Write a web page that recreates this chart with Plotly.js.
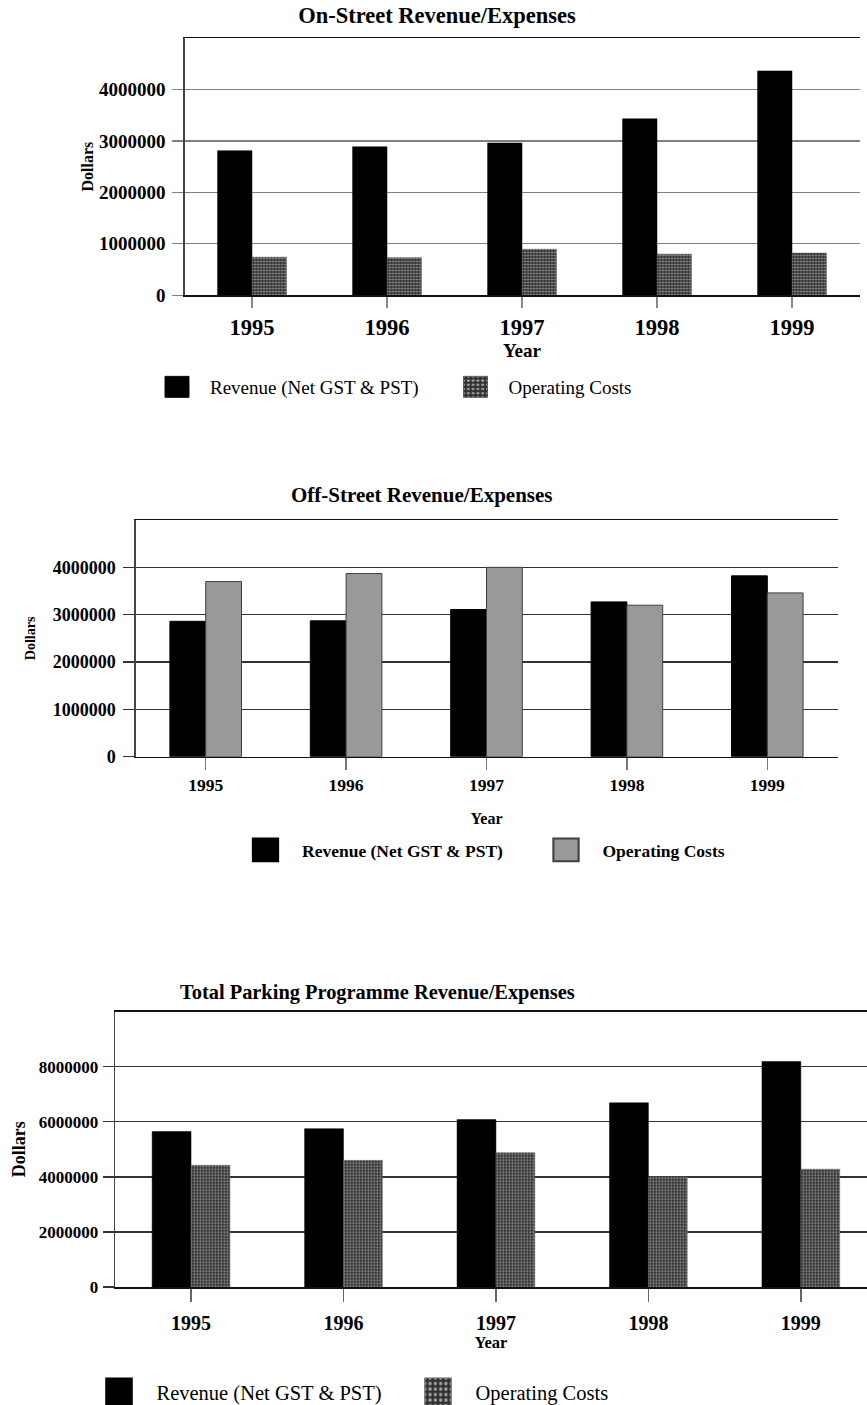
<!DOCTYPE html>
<html>
<head>
<meta charset="utf-8">
<script src="https://cdn.plot.ly/plotly-3.0.1.min.js"></script>
<style>
html,body{margin:0;padding:0;background:#fff;width:867px;height:1405px;overflow:hidden;}
#chart{width:867px;height:1405px;overflow:hidden;}
</style>
</head>
<body>
<div id="chart"></div>
<script>
// ---- data ----
const years = ['1995', '1996', '1997', '1998', '1999'];

const onStreetRevenue = [2810000, 2885000, 2960000, 3430000, 4360000];
const onStreetCosts   = [740000, 730000, 895000, 800000, 820000];

const offStreetRevenue = [2860000, 2870000, 3110000, 3270000, 3820000];
const offStreetCosts   = [3700000, 3870000, 4000000, 3200000, 3460000];

const totalRevenue = [5650000, 5750000, 6080000, 6690000, 8190000];
const totalCosts   = [4420000, 4600000, 4880000, 4000000, 4280000];

const onStreetTicks  = [0, 1000000, 2000000, 3000000, 4000000];
const offStreetTicks = [0, 1000000, 2000000, 3000000, 4000000];
const totalTicks     = [0, 2000000, 4000000, 6000000, 8000000];

const revenueName = 'Revenue (Net GST &amp; PST)';
const costsName = 'Operating Costs';

// ---- styling ----
const SERIF = '"Liberation Serif", "Times New Roman", Times, serif';
const W = 867, H = 1405;
const px = v => v / W;
const py = v => 1 - v / H;

const hatch = {shape: '.', fgcolor: '#a0a0a0', bgcolor: '#303030', size: 3, solidity: 0.32};

const data = [
  {type: 'bar', x: years, y: onStreetRevenue, name: revenueName, xaxis: 'x', yaxis: 'y', legend: 'legend',
   marker: {color: '#000', line: {color: '#000', width: 0.5}}, hoverinfo: 'skip'},
  {type: 'bar', x: years, y: onStreetCosts, name: costsName, xaxis: 'x', yaxis: 'y', legend: 'legend',
   marker: {color: '#303030', pattern: hatch, line: {color: '#555', width: 0.5}}, hoverinfo: 'skip'},

  {type: 'bar', x: years, y: offStreetRevenue, name: revenueName, xaxis: 'x2', yaxis: 'y2', legend: 'legend2',
   marker: {color: '#000', line: {color: '#000', width: 1}}, hoverinfo: 'skip'},
  {type: 'bar', x: years, y: offStreetCosts, name: costsName, xaxis: 'x2', yaxis: 'y2', legend: 'legend2',
   marker: {color: '#999999', line: {color: '#404040', width: 1}}, hoverinfo: 'skip'},

  {type: 'bar', x: years, y: totalRevenue, name: revenueName, xaxis: 'x3', yaxis: 'y3', legend: 'legend3',
   marker: {color: '#000', line: {color: '#000', width: 0.5}}, hoverinfo: 'skip'},
  {type: 'bar', x: years, y: totalCosts, name: costsName, xaxis: 'x3', yaxis: 'y3', legend: 'legend3',
   marker: {color: '#303030', pattern: hatch, line: {color: '#666', width: 0.5}}, hoverinfo: 'skip'}
];

function xAxis(domain, range, anchor, tickSize, titleSize, ticklen, tickColor, standoff, titleStandoff) {
  return {
    type: 'category', domain: domain, range: range, anchor: anchor,
    categoryorder: 'array', categoryarray: years,
    showgrid: false, zeroline: false,
    showline: true, mirror: true, linecolor: '#111', linewidth: 1.5,
    ticks: 'outside', ticklen: ticklen, tickwidth: 1.5, tickcolor: tickColor,
    ticklabelstandoff: standoff,
    tickfont: {family: SERIF, size: tickSize, color: '#000', weight: 'bold'},
    title: {text: 'Year', standoff: titleStandoff, font: {family: SERIF, size: titleSize, color: '#000', weight: 'bold'}},
    automargin: false, fixedrange: true
  };
}
function yAxis(domain, range, anchor, ticks, tickSize, titleSize, gridColor, standoff, titleStandoff) {
  return {
    domain: domain, range: range, anchor: anchor,
    tickmode: 'array', tickvals: ticks, tickformat: 'd',
    showgrid: true, gridcolor: gridColor, gridwidth: 1.3,
    zeroline: false,
    showline: true, linecolor: '#444', linewidth: 1.2,
    ticks: 'outside', ticklen: 11, tickwidth: 1.3, tickcolor: gridColor,
    ticklabelstandoff: standoff,
    tickfont: {family: SERIF, size: tickSize, color: '#000', weight: 'bold'},
    title: {text: 'Dollars', standoff: titleStandoff, font: {family: SERIF, size: titleSize, color: '#000', weight: 'bold'}},
    automargin: false, fixedrange: true
  };
}

function legendBox(y, x, itemwidth, size, weight, entrywidth) {
  return {
    orientation: 'h', x: x, xanchor: 'left', y: y, yanchor: 'middle',
    bgcolor: 'rgba(0,0,0,0)', borderwidth: 0,
    itemwidth: itemwidth, entrywidth: entrywidth, entrywidthmode: 'pixels',
    font: {family: SERIF, size: size, color: '#000', weight: weight},
    traceorder: 'normal', itemclick: false, itemdoubleclick: false
  };
}

const layout = {
  width: W, height: H,
  margin: {l: 0, r: 0, t: 0, b: 0, pad: 0, autoexpand: false},
  paper_bgcolor: '#fff', plot_bgcolor: '#fff',
  barmode: 'group', bargap: 0.49, bargroupgap: 0,
  showlegend: true,
  title: {
    text: 'On-Street Revenue/Expenses',
    xref: 'container', x: 437 / W, xanchor: 'center',
    yref: 'container', y: py(15), yanchor: 'middle',
    font: {family: SERIF, size: 22.5, color: '#000', weight: 'bold'}
  },
  xaxis:  xAxis([px(184.5), px(859.5)], [-0.5, 4.5], 'y', 22.5, 19, 11, '#888', 0, 0),
  yaxis:  yAxis([py(295.3), py(38)], [0, 5000000], 'x', onStreetTicks, 19, 16, '#808080', 3, 1),
  xaxis2: xAxis([px(135.5), px(837.5)], [-0.5, 4.5], 'y2', 17.5, 16, 12, '#777', 0, 18),
  yaxis2: yAxis([py(756.7), py(520)], [0, 5000000], 'x2', offStreetTicks, 18, 14, '#333', 4, 13),
  xaxis3: xAxis([px(114.8), 1], [-0.5, 4.434], 'y3', 20, 16.5, 13, '#666', 4, 4),
  yaxis3: yAxis([py(1287), py(1011.7)], [0, 10000000], 'x3', totalTicks, 17, 18, '#333', 1, 8),
  legend:  legendBox(py(387), px(144), 56, 19, 'normal', 227.5),
  legend2: legendBox(py(850), px(229), 63, 17.5, 'bold', 222.5),
  legend3: legendBox(py(1392), px(81.5), 65, 20.5, 'normal', 239),
  annotations: [
    {text: 'Off-Street Revenue/Expenses', xref: 'paper', yref: 'paper', x: px(422), y: py(495),
     xanchor: 'center', yanchor: 'middle', showarrow: false,
     font: {family: SERIF, size: 21, color: '#000', weight: 'bold'}},
    {text: 'Total Parking Programme Revenue/Expenses', xref: 'paper', yref: 'paper', x: px(377), y: py(992),
     xanchor: 'center', yanchor: 'middle', showarrow: false,
     font: {family: SERIF, size: 20.4, color: '#000', weight: 'bold'}}
  ]
};

Plotly.newPlot('chart', data, layout, {staticPlot: true, displayModeBar: false}).then(function (gd) {
  // enlarge legend swatches to match the reference's big square keys
  const scales = {legend: [2.0, 1.75], legend2: [2.1, 1.9], legend3: [2.2, 2.3]};
  Object.keys(scales).forEach(function (id) {
    const g = gd.querySelector('g.' + id);
    if (!g) return;
    g.querySelectorAll('g.legendpoints path').forEach(function (p) {
      const t = p.getAttribute('transform') || '';
      p.setAttribute('transform', t + ' scale(' + scales[id][0] + ',' + scales[id][1] + ')');
    });
  });
});
</script>
</body>
</html>
